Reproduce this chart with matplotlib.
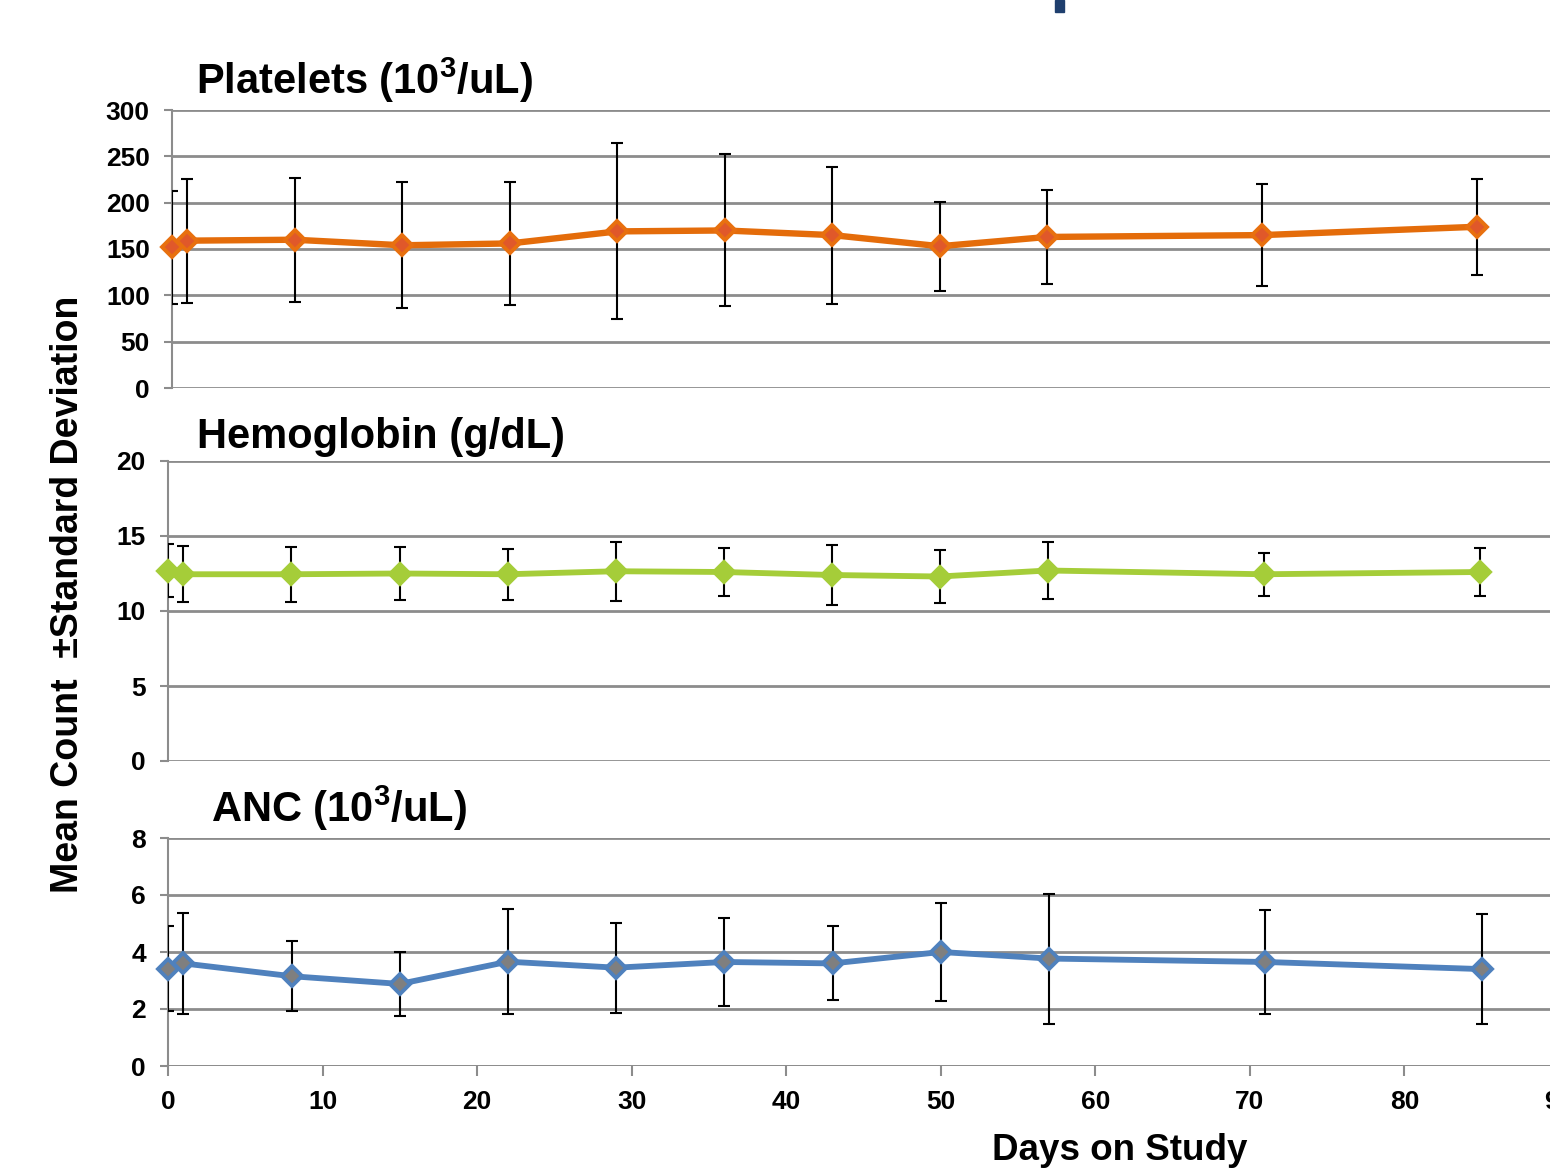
import matplotlib
matplotlib.use("Agg")
import matplotlib.pyplot as plt
from matplotlib.patches import Rectangle

days = [0, 1, 8, 15, 22, 29, 36, 43, 50, 57, 71, 85]

plt_mean = [152, 159, 160, 154, 156, 169, 170, 165, 153, 163, 165, 174]
plt_sd = [61, 67, 67, 68, 66, 95, 82, 74, 48, 51, 55, 52]

hgb_mean = [12.7, 12.45, 12.45, 12.5, 12.45, 12.65, 12.6, 12.4, 12.3, 12.7, 12.45, 12.6]
hgb_sd = [1.75, 1.87, 1.85, 1.76, 1.7, 1.95, 1.63, 2.0, 1.75, 1.9, 1.45, 1.6]

anc_mean = [3.42, 3.6, 3.15, 2.88, 3.66, 3.45, 3.65, 3.6, 4.0, 3.77, 3.65, 3.4]
anc_sd = [1.5, 1.77, 1.23, 1.12, 1.85, 1.58, 1.55, 1.3, 1.72, 2.28, 1.82, 1.92]

x_ticks = [0, 10, 20, 30, 40, 50, 60, 70, 80, 90]
plt_ticks = [0, 50, 100, 150, 200, 250, 300]
hgb_ticks = [0, 5, 10, 15, 20]
anc_ticks = [0, 2, 4, 6, 8]

titles = ["Platelets (10$^{3}$/uL)", "Hemoglobin (g/dL)", "ANC (10$^{3}$/uL)"]
ylabel = "Mean Count  \u00b1Standard Deviation"
xlabel = "Days on Study"

plt.rcParams['font.family'] = ['Liberation Sans', 'DejaVu Sans']
plt.rcParams['mathtext.fontset'] = 'custom'
plt.rcParams['mathtext.rm'] = 'Liberation Sans:bold'
plt.rcParams['mathtext.bf'] = 'Liberation Sans:bold'
plt.rcParams['mathtext.it'] = 'Liberation Sans:bold'

W, H = 1550, 1172
fig = plt.figure(figsize=(W / 100, H / 100), dpi=100)

def frac(x0, y_top, x1, y_bot):
    return [x0 / W, 1 - y_bot / H, (x1 - x0) / W, (y_bot - y_top) / H]

grid_c = '#8c8c8c'

panels = [
    dict(pos=frac(172, 110, 1554, 388), mean=plt_mean, sd=plt_sd, ticks=plt_ticks,
         ylim=(0, 300), lc='#E46C0A', mfc='#E0582A', mec='#E8700F', lw=4.6,
         title=titles[0], tx=196, ty=80, xt=False),
    dict(pos=frac(168, 461, 1557, 761), mean=hgb_mean, sd=hgb_sd, ticks=hgb_ticks,
         ylim=(0, 20), lc='#A5CD39', mfc='#A5CD39', mec='#A5CD39', lw=4.2,
         title=titles[1], tx=197, ty=437, xt=False),
    dict(pos=frac(168, 838, 1559, 1066), mean=anc_mean, sd=anc_sd, ticks=anc_ticks,
         ylim=(0, 8), lc='#4F81BD', mfc='#7F7F7F', mec='#4F81BD', lw=4.2,
         title=titles[2], tx=211, ty=808, xt=True),
]

for p in panels:
    ax = fig.add_axes(p['pos'])
    ax.set_xlim(0, 90)
    ax.set_ylim(*p['ylim'])
    ax.set_yticks(p['ticks'])
    ax.yaxis.grid(True, color=grid_c, lw=2)
    ax.set_axisbelow(True)
    for s in ['top', 'right', 'bottom']:
        ax.spines[s].set_visible(False)
    ax.spines['left'].set_color(grid_c)
    ax.spines['left'].set_linewidth(1.5)
    ax.tick_params(axis='y', direction='out', length=6, width=1.5, color=grid_c,
                   labelsize=19, pad=10)
    for lab in ax.get_yticklabels():
        lab.set_fontweight('bold')
    ax.errorbar(days, p['mean'], yerr=p['sd'], fmt='none', ecolor='black',
                elinewidth=1.5, capsize=4, capthick=1.5, zorder=3)
    ax.plot(days, p['mean'], '-', color=p['lc'], lw=p['lw'], zorder=4,
            clip_on=False, solid_joinstyle='round')
    ax.plot(days, p['mean'], 'D', ms=10.5, mfc=p['mfc'], mec=p['mec'], mew=2.8,
            zorder=5, clip_on=False, linestyle='none')
    if p['xt']:
        ax.set_xticks(x_ticks)
        ax.tick_params(axis='x', direction='out', length=7, width=1.5, color=grid_c,
                       labelsize=19, pad=10)
        for lab in ax.get_xticklabels():
            lab.set_fontweight('bold')
        ax.axhline(0, color=grid_c, lw=2, zorder=1)
    else:
        ax.set_xticks([])
    fig.text(p['tx'] / W, 1 - p['ty'] / H, p['title'], fontsize=30,
             fontweight='bold', ha='left', va='center')

fig.text(68 / W, 1 - 594 / H, ylabel, rotation=90, fontsize=27, fontweight='bold',
         ha='center', va='center')
fig.text(1120 / W, 1 - 1150 / H, xlabel, fontsize=26.5, fontweight='bold',
         ha='center', va='center')

fig.add_artist(Rectangle((1055 / W, 1 - 12 / H), 9 / W, 12 / H,
                         transform=fig.transFigure, color='#1F3F6E', clip_on=False))

fig.savefig('out.png', dpi=100)
